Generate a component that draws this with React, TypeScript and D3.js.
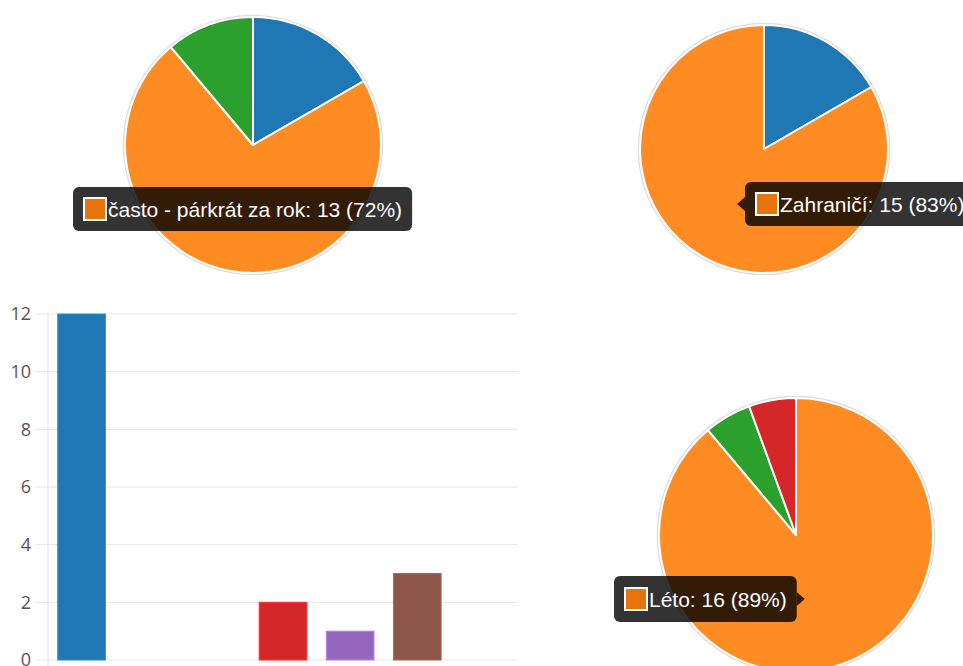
import React from "react";
import * as d3 from "d3";

const COLORS = ["#1f77b4", "#ff8c22", "#2ca02c", "#d62728", "#9467bd", "#8c564b", "#e377c2"];

const pie1Labels = ["velmi často", "často - párkrát za rok", "výjimečně"];
const pie1Values = [3, 13, 2];

const pie2Labels = ["Tuzemsko", "Zahraničí"];
const pie2Values = [3, 15];

const pie3Labels = ["Jaro", "Léto", "Podzim", "Zima"];
const pie3Values = [0, 16, 1, 1];

const barCategories = ["A", "B", "C", "D", "E", "F", "G"];
const barValues = [12, 0, 0, 2, 1, 3, 0];
const yTicks = [0, 2, 4, 6, 8, 10, 12];

const TIP_FONT = "21px 'Liberation Sans', Arial, sans-serif";

function measure(text: string): number {
  const c = document.createElement("canvas").getContext("2d");
  if (!c) return text.length * 10;
  c.font = TIP_FONT;
  return c.measureText(text).width;
}

function Pie({ cx, cy, r, values }: { cx: number; cy: number; r: number; values: number[] }) {
  const arcs = d3.pie<number>().sort(null).value((d) => d)(values);
  const arc = d3.arc<d3.PieArcDatum<number>>().innerRadius(0).outerRadius(r);
  return (
    <g transform={`translate(${cx},${cy})`}>
      <circle r={r + 1} fill="none" stroke="#dcdcdc" strokeWidth={2.5} />
      {arcs.map((a, i) =>
        a.value > 0 ? (
          <path key={i} d={arc(a) || ""} fill={COLORS[i]} stroke="#fff" strokeWidth={2} strokeLinejoin="round" />
        ) : null
      )}
    </g>
  );
}

function Tooltip({ x, y, h, text, caret }: { x: number; y: number; h: number; text: string; caret: "none" | "left" | "right" }) {
  const tw = measure(text);
  const w = 35 + tw + 10;
  const cyMid = y + h / 2;
  return (
    <g>
      <rect x={x} y={y} width={w} height={h} rx={6} fill="rgba(0,0,0,0.8)" />
      {caret === "left" && (
        <path d={`M${x},${cyMid - 7}L${x - 8},${cyMid}L${x},${cyMid + 7}Z`} fill="rgba(0,0,0,0.8)" />
      )}
      {caret === "right" && (
        <path d={`M${x + w},${cyMid - 7}L${x + w + 8},${cyMid}L${x + w},${cyMid + 7}Z`} fill="rgba(0,0,0,0.8)" />
      )}
      <rect x={x + 11} y={cyMid - 11} width={22} height={22} fill="#e6740b" stroke="#fff" strokeWidth={2} />
      <text x={x + 35} y={cyMid} dy="0.36em" fill="#fff" style={{ font: TIP_FONT }}>
        {text}
      </text>
    </g>
  );
}

function pct(v: number[], i: number) {
  return Math.round((v[i] / d3.sum(v)) * 100);
}

export default function App() {
  const x = d3.scaleBand<string>().domain(barCategories).range([48, 518]).padding(0);
  const y = d3.scaleLinear().domain([0, 12]).range([660, 314]);
  const bw = x.bandwidth() * 0.71;

  return (
    <svg width={963} height={666} style={{ position: "absolute", left: 0, top: 0, background: "#fff" }}>
      <Pie cx={253} cy={145} r={128} values={pie1Values} />
      <Pie cx={764} cy={149} r={124} values={pie2Values} />
      <Pie cx={796} cy={535} r={137} values={pie3Values} />

      {/* bar chart */}
      <g>
        {yTicks.map((t) => (
          <g key={t}>
            <line x1={35} x2={518} y1={y(t)} y2={y(t)} stroke="#e6e6e6" strokeWidth={1} />
            <text
              x={31}
              y={y(t)}
              dy="0.35em"
              textAnchor="end"
              fill="#555"
              style={{ font: "18px 'Open Sans', sans-serif" }}
            >
              {t}
            </text>
          </g>
        ))}
        <line x1={48} x2={48} y1={314} y2={666} stroke="#e6e6e6" strokeWidth={1} />
        {barCategories.map((c, i) =>
          barValues[i] > 0 ? (
            <rect
              key={c}
              x={(x(c) as number) + (x.bandwidth() - bw) / 2}
              y={y(barValues[i])}
              width={bw}
              height={y(0) - y(barValues[i])}
              fill={COLORS[i]}
              stroke={d3.color(COLORS[i])!.brighter(0.6).formatHex()}
              strokeWidth={1}
            />
          ) : null
        )}
      </g>

      <Tooltip
        x={73}
        y={187}
        h={44}
        caret="none"
        text={`${pie1Labels[1]}: ${pie1Values[1]} (${pct(pie1Values, 1)}%)`}
      />
      <Tooltip
        x={745}
        y={182}
        h={44}
        caret="left"
        text={`${pie2Labels[1]}: ${pie2Values[1]} (${pct(pie2Values, 1)}%)`}
      />
      <Tooltip
        x={614}
        y={576}
        h={46}
        caret="right"
        text={`${pie3Labels[1]}: ${pie3Values[1]} (${pct(pie3Values, 1)}%)`}
      />
    </svg>
  );
}
